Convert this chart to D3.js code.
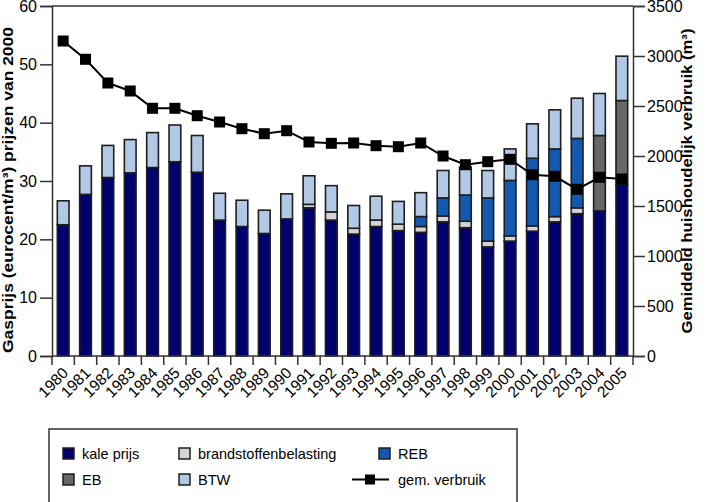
<!DOCTYPE html>
<html>
<head>
<meta charset="utf-8">
<script src="https://cdn.jsdelivr.net/npm/d3@7"></script>
<style>
  body { margin: 0; background: #fff; }
  svg { display: block; font-family: "Liberation Sans", Arial, sans-serif; }
</style>
</head>
<body>
<svg id="chart" width="706" height="502"></svg>
<script>
const years = ["1980","1981","1982","1983","1984","1985","1986","1987","1988","1989","1990","1991","1992","1993","1994","1995","1996","1997","1998","1999","2000","2001","2002","2003","2004","2005"];
const kalePrijs = [22.5, 27.7, 30.6, 31.4, 32.3, 33.3, 31.5, 23.3, 22.2, 21.0, 23.5, 25.4, 23.3, 20.9, 22.2, 21.5, 21.2, 23.0, 22.0, 18.7, 19.7, 21.4, 23.0, 24.4, 24.9, 29.4];
const brandstof = [0, 0, 0, 0, 0, 0, 0, 0, 0, 0, 0, 0.6, 1.4, 1.0, 1.1, 1.1, 1.0, 1.0, 1.1, 1.0, 0.9, 0.9, 0.9, 1.0, 0, 0];
const reb = [0, 0, 0, 0, 0, 0, 0, 0, 0, 0, 0, 0, 0, 0, 0, 0, 1.7, 3.1, 4.5, 7.4, 9.5, 11.6, 11.6, 11.9, 0, 0];
const eb = [0, 0, 0, 0, 0, 0, 0, 0, 0, 0, 0, 0, 0, 0, 0, 0, 0, 0, 0, 0, 0, 0, 0, 0, 12.9, 14.4];
const btw = [4.1, 4.9, 5.5, 5.7, 6.0, 6.3, 6.3, 4.6, 4.5, 4.0, 4.3, 4.9, 4.5, 3.9, 4.1, 3.9, 4.1, 4.7, 4.8, 4.7, 5.4, 5.9, 6.7, 6.9, 7.2, 7.6];
const verbruik = [3150, 2967, 2730, 2650, 2477, 2477, 2403, 2340, 2273, 2223, 2253, 2140, 2127, 2130, 2103, 2093, 2130, 2000, 1913, 1943, 1967, 1813, 1797, 1667, 1787, 1770];
const leftTicks = [0, 10, 20, 30, 40, 50, 60];
const rightTicks = [0, 500, 1000, 1500, 2000, 2500, 3000, 3500];

const seriesKeys = ["kale", "brand", "reb", "eb", "btw"];
const seriesNames = {kale: "kale prijs", brand: "brandstoffenbelasting", reb: "REB", eb: "EB", btw: "BTW"};
const colors = {kale: "#00006e", brand: "#d4d4d4", reb: "#1459b0", eb: "#676767", btw: "#b2c9e6"};

const table = years.map((y, i) => ({year: y, kale: kalePrijs[i], brand: brandstof[i], reb: reb[i], eb: eb[i], btw: btw[i], verbruik: verbruik[i]}));

const svg = d3.select("#chart");
const L = 52, R = 633, T = 6, B = 356;

const x = d3.scaleBand().domain(years).range([L, R]).paddingInner(0.476).paddingOuter(0.238);
const yL = d3.scaleLinear().domain([0, 60]).range([B, T]);
const yR = d3.scaleLinear().domain([0, 3500]).range([B, T]);

const stacked = d3.stack().keys(seriesKeys)(table);
const axisColor = "#333";

// bars
const gBars = svg.append("g");
stacked.forEach(layer => {
  gBars.append("g")
    .selectAll("rect")
    .data(layer.filter(d => d[1] - d[0] > 0))
    .join("rect")
    .attr("x", d => x(d.data.year))
    .attr("width", x.bandwidth())
    .attr("y", d => yL(d[1]))
    .attr("height", d => yL(d[0]) - yL(d[1]))
    .attr("fill", colors[layer.key])
    .attr("stroke", "#1e1e1e")
    .attr("stroke-width", 1.6);
});

// left axis
const axL = svg.append("g").attr("transform", `translate(${L},0)`)
  .call(d3.axisLeft(yL).tickValues(leftTicks).tickSize(12).tickPadding(3).tickFormat(d3.format("d")));
axL.selectAll("text").attr("font-size", 16).attr("fill", "#000");

// right axis
const axR = svg.append("g").attr("transform", `translate(${R},0)`)
  .call(d3.axisRight(yR).tickValues(rightTicks).tickSize(12).tickPadding(2).tickFormat(d3.format("d")));
axR.selectAll("text").attr("font-size", 16).attr("fill", "#000");

// bottom axis
svg.append("line").attr("x1", L).attr("x2", R).attr("y1", B).attr("y2", B).attr("stroke", axisColor).attr("stroke-width", 1.5);
const step = x.step();
const boundaries = d3.range(years.length + 1).map(i => L + i * step);
svg.append("g").selectAll("line").data(boundaries).join("line")
  .attr("x1", d => d).attr("x2", d => d).attr("y1", B).attr("y2", B + 9)
  .attr("stroke", axisColor).attr("stroke-width", 1.5);
svg.append("g").selectAll("text").data(years).join("text")
  .attr("transform", d => `translate(${x(d) + x.bandwidth() / 2 + 6},${B + 18}) rotate(-45)`)
  .attr("text-anchor", "end")
  .attr("font-size", 15.5)
  .attr("fill", "#000")
  .text(d => d);

// top line
svg.append("line").attr("x1", L).attr("x2", R).attr("y1", T).attr("y2", T).attr("stroke", axisColor).attr("stroke-width", 1.5);

[axL, axR].forEach(a => {
  a.select(".domain").attr("stroke", axisColor).attr("stroke-width", 1.5);
  a.selectAll(".tick line").attr("stroke", axisColor).attr("stroke-width", 1.5);
});

// line
const line = d3.line().x(d => x(d.year) + x.bandwidth() / 2).y(d => yR(d.verbruik));
svg.append("path").datum(table).attr("d", line).attr("fill", "none").attr("stroke", "#000").attr("stroke-width", 2);
const ms = 11;
svg.append("g").selectAll("rect").data(table).join("rect")
  .attr("x", d => x(d.year) + x.bandwidth() / 2 - ms / 2)
  .attr("y", d => yR(d.verbruik) - ms / 2)
  .attr("width", ms).attr("height", ms).attr("fill", "#000");

// axis titles
svg.append("text")
  .attr("transform", `translate(13,190) rotate(-90)`)
  .attr("text-anchor", "middle").attr("font-weight", "bold").attr("font-size", 15)
  .attr("textLength", 326).attr("lengthAdjust", "spacingAndGlyphs")
  .text("Gasprijs (eurocent/m³) prijzen van 2000");
svg.append("text")
  .attr("transform", `translate(692,181) rotate(-90)`)
  .attr("text-anchor", "middle").attr("font-weight", "bold").attr("font-size", 15)
  .attr("textLength", 305).attr("lengthAdjust", "spacingAndGlyphs")
  .text("Gemiddeld huishoudelijk verbruik (m³)");

// legend
const lg = svg.append("g");
lg.append("rect").attr("x", 49).attr("y", 429).attr("width", 468).attr("height", 90)
  .attr("fill", "#fff").attr("stroke", "#333").attr("stroke-width", 1.5);
const legendItems = [
  {key: "kale", x: 63, row: 0}, {key: "brand", x: 179, row: 0}, {key: "reb", x: 379, row: 0},
  {key: "eb", x: 63, row: 1}, {key: "btw", x: 179, row: 1}
];
const rowY = [448, 474];
const rowBase = [459, 485];
legendItems.forEach(it => {
  lg.append("rect").attr("x", it.x).attr("y", rowY[it.row]).attr("width", 11).attr("height", 11)
    .attr("fill", colors[it.key]).attr("stroke", "#1e1e1e").attr("stroke-width", 1.5);
  lg.append("text").attr("x", it.x + 19).attr("y", rowBase[it.row]).attr("font-size", 14.5).attr("fill", "#000")
    .text(seriesNames[it.key]);
});
lg.append("line").attr("x1", 352).attr("x2", 389).attr("y1", 479.5).attr("y2", 479.5).attr("stroke", "#000").attr("stroke-width", 2);
lg.append("rect").attr("x", 365).attr("y", 474.5).attr("width", 10).attr("height", 10).attr("fill", "#000");
lg.append("text").attr("x", 398).attr("y", 485).attr("font-size", 14.5).attr("fill", "#000").text("gem. verbruik");
</script>
</body>
</html>
